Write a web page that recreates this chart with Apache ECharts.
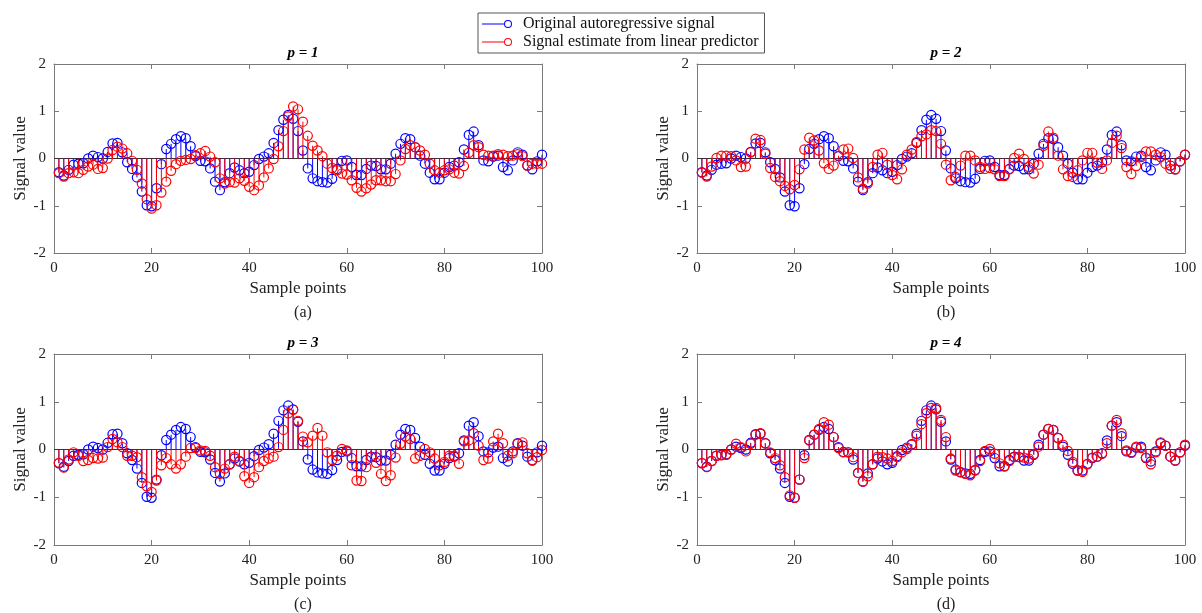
<!DOCTYPE html>
<html>
<head>
<meta charset="utf-8">
<script src="https://cdn.jsdelivr.net/npm/echarts@6/dist/echarts.min.js"></script>
<style>html,body{margin:0;padding:0;background:#fff;}#c{width:1202px;height:613px;}</style>
</head>
<body>
<div id="c"></div>
<script>
// ---- data ----
const samples = Array.from({length: 100}, (_, i) => i + 1);
const original = [-0.29,-0.36,-0.24,-0.13,-0.11,-0.10,0.00,0.06,0.03,0.00,
0.14,0.32,0.33,0.13,-0.08,-0.22,-0.40,-0.70,-0.99,-1.01,
-0.63,-0.12,0.20,0.31,0.41,0.47,0.43,0.26,0.05,-0.05,
-0.06,-0.21,-0.49,-0.67,-0.50,-0.31,-0.19,-0.25,-0.31,-0.28,
-0.14,-0.01,0.04,0.11,0.33,0.60,0.82,0.92,0.84,0.58,
0.17,-0.21,-0.42,-0.48,-0.50,-0.51,-0.43,-0.22,-0.05,-0.04,
-0.18,-0.35,-0.35,-0.22,-0.15,-0.16,-0.23,-0.23,-0.11,0.10,
0.31,0.43,0.41,0.24,0.06,-0.11,-0.30,-0.44,-0.44,-0.30,
-0.18,-0.15,-0.08,0.19,0.50,0.57,0.28,-0.04,-0.06,0.04,
0.06,-0.18,-0.25,-0.04,0.13,0.08,-0.15,-0.23,-0.06,0.08];
const estimateP1 = [-0.31,-0.38,-0.31,-0.29,-0.31,-0.24,-0.17,-0.13,-0.22,-0.20,
0.00,0.18,0.25,0.21,0.11,-0.05,-0.24,-0.53,-0.86,-1.06,
-0.99,-0.72,-0.49,-0.26,-0.12,-0.05,-0.03,-0.01,0.07,0.11,
0.16,0.04,-0.08,-0.42,-0.53,-0.50,-0.51,-0.42,-0.47,-0.60,
-0.67,-0.57,-0.40,-0.21,-0.01,0.26,0.58,0.89,1.10,1.04,
0.78,0.48,0.27,0.17,0.05,-0.11,-0.20,-0.25,-0.32,-0.34,
-0.46,-0.62,-0.70,-0.63,-0.55,-0.46,-0.46,-0.48,-0.48,-0.33,
-0.04,0.20,0.28,0.24,0.17,0.08,-0.11,-0.25,-0.30,-0.25,
-0.23,-0.30,-0.32,-0.16,0.12,0.28,0.24,0.08,0.06,0.06,
0.09,0.08,0.05,0.06,0.09,0.05,-0.15,-0.11,-0.11,-0.11];
const estimateP2 = [-0.30,-0.38,-0.17,0.01,0.06,0.06,0.05,-0.04,-0.18,-0.17,
0.13,0.42,0.39,0.10,-0.20,-0.39,-0.48,-0.58,-0.65,-0.56,
-0.23,0.19,0.44,0.38,0.17,-0.10,-0.22,-0.15,0.06,0.19,
0.21,0.01,-0.40,-0.64,-0.53,-0.18,0.08,0.12,-0.13,-0.35,
-0.44,-0.23,0.08,0.19,0.35,0.47,0.51,0.60,0.58,0.31,
-0.13,-0.46,-0.39,-0.15,0.06,0.06,-0.04,-0.18,-0.22,-0.20,
-0.23,-0.37,-0.37,-0.23,0.01,0.10,-0.01,-0.18,-0.32,-0.13,
0.27,0.57,0.44,0.06,-0.23,-0.37,-0.39,-0.25,-0.04,0.12,
0.12,-0.09,-0.22,-0.04,0.33,0.48,0.22,-0.18,-0.33,-0.16,
0.03,0.15,0.15,0.08,0.03,-0.11,-0.22,-0.23,-0.06,0.08];
const estimateP3 = [-0.28,-0.38,-0.21,-0.06,-0.13,-0.24,-0.22,-0.18,-0.19,-0.17,
0.05,0.22,0.15,0.05,-0.13,-0.13,-0.16,-0.58,-0.77,-0.89,
-0.65,-0.33,-0.18,-0.31,-0.40,-0.31,-0.15,0.03,0.03,-0.02,
-0.03,-0.13,-0.37,-0.51,-0.40,-0.31,-0.15,-0.24,-0.56,-0.70,
-0.58,-0.37,-0.24,-0.19,-0.15,0.05,0.41,0.76,0.83,0.60,
0.27,0.15,0.29,0.45,0.29,-0.06,-0.22,-0.13,0.01,-0.02,
-0.33,-0.65,-0.66,-0.37,-0.16,-0.28,-0.51,-0.66,-0.54,-0.17,
0.12,0.27,0.22,-0.19,-0.13,0.01,-0.06,-0.19,-0.33,-0.26,
-0.13,-0.13,-0.30,0.17,0.19,0.34,0.08,-0.22,-0.19,0.17,
0.33,0.13,-0.13,-0.08,0.12,0.15,-0.08,-0.22,-0.16,-0.01];
const estimateP4 = [-0.28,-0.37,-0.24,-0.13,-0.12,-0.11,0.00,0.12,0.05,-0.04,
0.12,0.31,0.34,0.13,-0.06,-0.18,-0.33,-0.58,-0.96,-1.01,
-0.63,-0.18,0.19,0.31,0.43,0.57,0.52,0.26,0.03,-0.06,
-0.06,-0.16,-0.49,-0.67,-0.56,-0.31,-0.15,-0.16,-0.19,-0.24,
-0.16,-0.06,0.01,0.10,0.29,0.53,0.76,0.87,0.87,0.62,
0.26,-0.19,-0.44,-0.47,-0.51,-0.54,-0.44,-0.24,-0.03,0.01,
-0.09,-0.29,-0.35,-0.24,-0.16,-0.16,-0.17,-0.19,-0.10,0.06,
0.31,0.43,0.41,0.24,0.10,-0.03,-0.26,-0.44,-0.47,-0.31,
-0.17,-0.15,-0.09,0.13,0.50,0.62,0.34,-0.02,-0.07,0.06,
0.03,-0.17,-0.31,-0.06,0.15,0.08,-0.15,-0.23,-0.06,0.10];
const estimates = [estimateP1, estimateP2, estimateP3, estimateP4];
const panelTitles = ['p = 1', 'p = 2', 'p = 3', 'p = 4'];
const panelLabels = ['(a)', '(b)', '(c)', '(d)'];
const seriesNames = ['Original autoregressive signal', 'Signal estimate from linear predictor'];
const xRange = [0, 100], xStep = 20;
const yRange = [-2, 2], yStep = 1;
const xAxisName = 'Sample points';
const yAxisName = 'Signal value';

// ---- layout / style ----
const FONT = 'Liberation Serif';
const AXC = '#7a7a7a';
const BLUE = '#0000ff', RED = '#ff0000';
const grids = [
  {left: 54, top: 64, width: 488, height: 189},
  {left: 697, top: 64, width: 488, height: 189},
  {left: 54, top: 354, width: 488, height: 191},
  {left: 697, top: 354, width: 488, height: 191}
];

function stemRender(color) {
  return function (params, api) {
    const x = api.value(0), y = api.value(1);
    const p = api.coord([x, y]);
    const b = api.coord([x, 0]);
    return {
      type: 'group',
      children: [
        {type: 'line', shape: {x1: p[0], y1: b[1], x2: p[0], y2: p[1]}, style: {stroke: color, lineWidth: 1}},
        {type: 'circle', shape: {cx: p[0], cy: p[1], r: 4.6}, style: {fill: 'none', stroke: color, lineWidth: 1.2}}
      ]
    };
  };
}

const xAxes = [], yAxes = [], series = [], titles = [];
grids.forEach((g, i) => {
  const common = {gridIndex: i, type: 'value', min: xRange[0], max: xRange[1], interval: xStep,
    splitLine: {show: false}, axisLine: {show: true, onZero: false, lineStyle: {color: AXC, width: 1}},
    axisTick: {show: true, inside: true, length: 5, lineStyle: {color: AXC}}};
  xAxes.push(Object.assign({}, common, {position: 'bottom',
    axisLabel: {color: '#222', fontFamily: FONT, fontSize: 15, margin: 8},
    name: xAxisName, nameLocation: 'middle', nameGap: 27,
    nameTextStyle: {color: '#222', fontFamily: FONT, fontSize: 17}}));
  xAxes.push(Object.assign({}, common, {position: 'top', axisLabel: {show: false}}));
  const ycommon = {gridIndex: i, type: 'value', min: yRange[0], max: yRange[1], interval: yStep,
    splitLine: {show: false}, axisLine: {show: true, onZero: false, lineStyle: {color: AXC, width: 1}},
    axisTick: {show: true, inside: true, length: 5, lineStyle: {color: AXC}}};
  yAxes.push(Object.assign({}, ycommon, {position: 'left',
    axisLabel: {color: '#222', fontFamily: FONT, fontSize: 15, margin: 8},
    name: yAxisName, nameLocation: 'middle', nameGap: 25,
    nameTextStyle: {color: '#222', fontFamily: FONT, fontSize: 17}}));
  yAxes.push(Object.assign({}, ycommon, {position: 'right', axisLabel: {show: false}}));

  series.push({type: 'line', xAxisIndex: 2 * i, yAxisIndex: 2 * i, silent: true, symbol: 'none',
    data: [[xRange[0], 0], [xRange[1], 0]], lineStyle: {color: '#333', width: 1}, z: 1});
  series.push({type: 'custom', name: seriesNames[0], xAxisIndex: 2 * i, yAxisIndex: 2 * i,
    itemStyle: {color: BLUE}, renderItem: stemRender(BLUE),
    data: samples.map((s, k) => [s, original[k]]), z: 2});
  series.push({type: 'custom', name: seriesNames[1], xAxisIndex: 2 * i, yAxisIndex: 2 * i,
    itemStyle: {color: RED}, renderItem: stemRender(RED),
    data: samples.map((s, k) => [s, estimates[i][k]]), z: 3});

  const cx = g.left + g.width / 2;
  titles.push({text: panelTitles[i], left: cx, top: g.top - 23, textAlign: 'center',
    textStyle: {fontFamily: FONT, fontSize: 15, fontWeight: 'bold', fontStyle: 'italic', color: '#000'}});
  titles.push({text: panelLabels[i], left: cx, top: g.top + g.height + 47, textAlign: 'center',
    textStyle: {fontFamily: FONT, fontSize: 16, fontWeight: 'normal', color: '#222'}});
});

const legendIcon = 'path://M0,4.4 L22,4.4 L22,5.6 L0,5.6 Z M30,5 A4,4 0 1 0 22,5 A4,4 0 1 0 30,5 Z M29,5 A3,3 0 1 1 23,5 A3,3 0 1 1 29,5 Z';
const legendColors = [BLUE, RED];

const chart = echarts.init(document.getElementById('c'), null, {renderer: 'canvas'});
chart.setOption({
  animation: false,
  backgroundColor: '#fff',
  title: titles,
  grid: grids,
  xAxis: xAxes,
  yAxis: yAxes,
  legend: {
    data: seriesNames.map((n, k) => ({name: n, icon: legendIcon,
      itemStyle: {color: legendColors[k], borderWidth: 0, borderColor: legendColors[k]}})),
    orient: 'vertical', left: 478, top: 13,
    itemWidth: 30, itemHeight: 8, itemGap: 2,
    padding: [3, 6, 3, 4],
    backgroundColor: '#fff', borderColor: '#555', borderWidth: 1,
    selectedMode: false,
    textStyle: {fontFamily: FONT, fontSize: 16, lineHeight: 16, color: '#111', padding: [0, 0, 0, 6]}
  },
  series: series
});
</script>
</body>
</html>
